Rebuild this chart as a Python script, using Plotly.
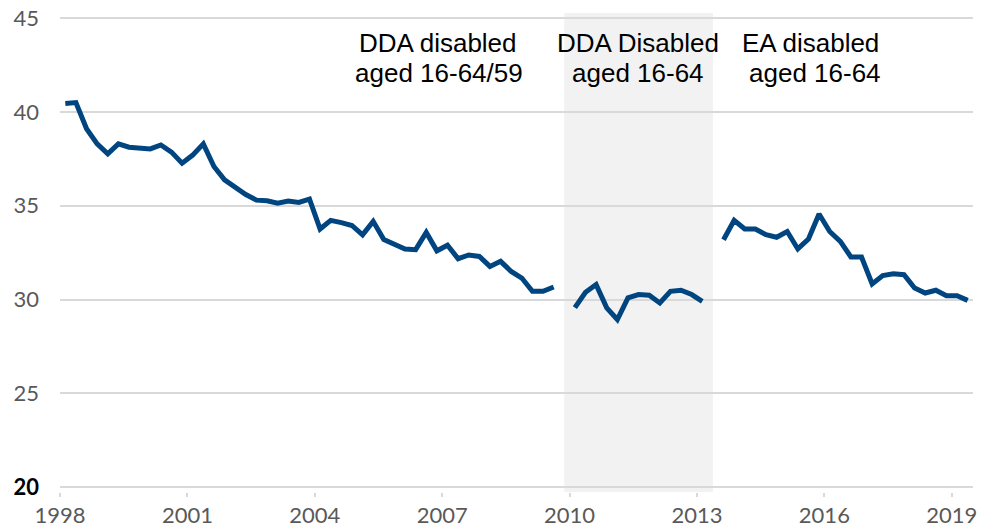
import plotly.graph_objects as go

# Quarterly series, 1998 Q1 .. 2019 Q2 (None = no data / series break)
start_year = 1998
values = [
    40.45, 40.5, 39.1, 38.3, 37.77, 38.3, 38.12, 38.07, 38.03, 38.24,
    37.86, 37.27, 37.7, 38.3, 37.09, 36.38, 35.95, 35.6, 35.3, 35.27,
    35.14, 35.25, 35.18, 35.35, 33.76, 34.22, 34.1, 33.95, 33.45, 34.17,
    33.2, 32.98, 32.7, 32.66, 33.58, 32.6, 32.9, 32.18, 32.38, 32.3,
    31.77, 32.04, 31.5, 31.15, 30.44, 30.44, 30.67, None,
    29.57, 30.39, 30.8, 29.56, 28.94, 30.09, 30.27, 30.23, 29.82, 30.44,
    30.5, 30.27, 29.91, None,
    33.19, 34.22, 33.76, 33.76, 33.46, 33.32, 33.63, 32.7, 33.23, 34.56,
    33.63, 33.1, 32.27, 32.27, 30.83, 31.28, 31.38, 31.33, 30.62, 30.35,
    30.5, 30.21, 30.21, 29.96,
]
# mid-quarter positions in years
x_pos = [start_year + i / 4 + 0.125 for i in range(len(values))]

x_tick_vals = [1998, 2001, 2004, 2007, 2010, 2013, 2016, 2019]
x_tick_text = ["1998", "2001", "2004", "2007", "2010", "2013", "2016", "2019"]
y_tick_vals = [20, 25, 30, 35, 40, 45]
y_tick_text = ['<span style="color:#000000"><b>20</b></span>', "25", "30", "35", "40", "45"]

# shaded period (DDA disabled aged 16-64)
shade_start = 2009.875
shade_end = 2013.375

labels = [
    ("DDA disabled", 2006.9, 43.65),
    ("aged 16-64/59", 2006.93, 42.05),
    ("DDA Disabled", 2011.62, 43.65),
    ("aged 16-64", 2011.62, 42.05),
    ("EA disabled", 2015.67, 43.65),
    ("aged 16-64", 2015.79, 42.05),
]

fig = go.Figure()
fig.add_shape(type="rect", xref="x", yref="paper", x0=shade_start, x1=shade_end,
              y0=0, y1=1, fillcolor="#f2f2f2", line_width=0, layer="below")
fig.add_trace(go.Scatter(x=x_pos, y=values, mode="lines", connectgaps=False,
                         line=dict(color="#00457f", width=5), hoverinfo="skip"))

for txt, xx, yy in labels:
    fig.add_annotation(x=xx, y=yy, xref="x", yref="y", text=txt, showarrow=False,
                       xanchor="center", yanchor="middle",
                       font=dict(family="Liberation Sans, Arial, sans-serif", size=26, color="#000000"))

# page body has an 8px margin, so the figure is sized to fit the 994x532 window
fig.update_layout(
    width=986, height=524,
    margin=dict(l=52, r=21, t=5, b=40),
    paper_bgcolor="white", plot_bgcolor="rgba(0,0,0,0)",
    showlegend=False,
    font=dict(family="Lato, sans-serif", size=22, color="#595959"),
)
fig.update_xaxes(range=[1998, 2019.5], tickvals=x_tick_vals, ticktext=x_tick_text,
                 showgrid=False, zeroline=False, showline=False, automargin=False,
                 ticks="outside", ticklen=4, tickwidth=1.5, tickcolor="#d9d9d9",
                 ticklabeloverflow="allow",
                 tickfont=dict(size=22, color="#595959"))
fig.update_yaxes(range=[19.75, 45.27], tickvals=y_tick_vals, ticktext=y_tick_text,
                 showgrid=True, gridcolor="#d9d9d9", gridwidth=1.5, automargin=False,
                 zeroline=False, showline=False, ticks="",
                 ticklabelstandoff=20, ticklabeloverflow="allow",
                 tickfont=dict(size=22, color="#595959"))

fig.write_html("out.html")
